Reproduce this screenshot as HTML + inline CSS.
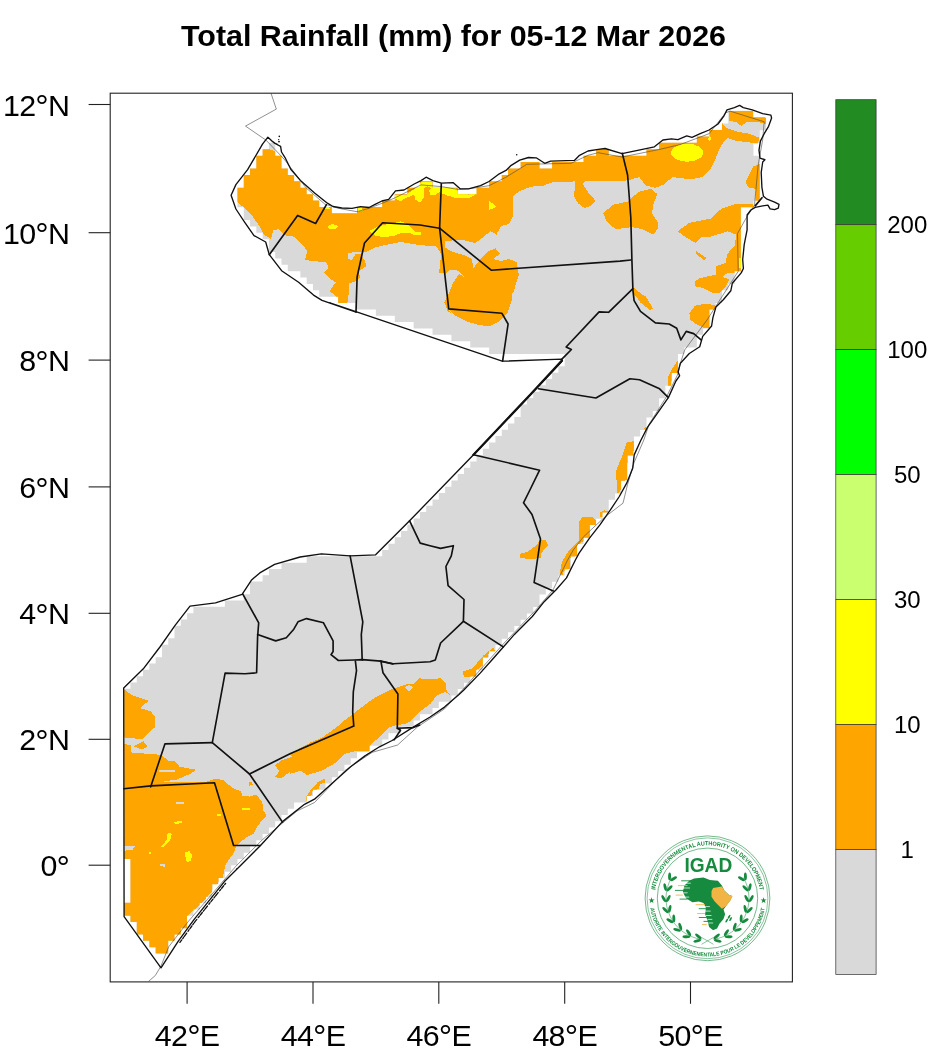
<!DOCTYPE html>
<html lang="en"><head><meta charset="utf-8"><title>Total Rainfall (mm) for 05-12 Mar 2026</title>
<style>html,body{margin:0;padding:0;background:#fff}body{width:941px;height:1056px;overflow:hidden}svg{display:block}text{font-family:"Liberation Sans",sans-serif;fill:#000}</style></head><body>
<svg width="941" height="1056" viewBox="0 0 941 1056">
<rect width="941" height="1056" fill="#fff"/>
<defs><clipPath id="mask"><path shape-rendering="crispEdges" d="M155.63 946.87H168.22V953.46H155.63ZM149.34 940.57H168.22V947.17H149.34ZM143.05 934.28H174.51V940.87H143.05ZM136.76 927.98H180.81V934.58H136.76ZM136.76 921.69H187.10V928.28H136.76ZM130.46 915.40H187.10V921.99H130.46ZM124.17 909.10H193.39V915.70H124.17ZM124.17 902.81H199.69V909.40H124.17ZM130.46 896.52H205.98V903.11H130.46ZM130.46 890.22H212.27V896.82H130.46ZM130.46 883.93H212.27V890.52H130.46ZM130.46 877.64H218.56V884.23H130.46ZM130.46 871.34H224.86V877.94H130.46ZM130.46 865.05H231.15V871.64H130.46ZM130.46 858.76H237.44V865.35H130.46ZM124.17 852.46H243.74V859.06H124.17ZM124.17 846.17H250.03V852.76H124.17ZM124.17 839.88H256.32V846.47H124.17ZM124.17 833.58H262.62V840.18H124.17ZM124.17 827.29H268.91V833.88H124.17ZM124.17 821.00H275.20V827.59H124.17ZM124.17 814.70H281.50V821.30H124.17ZM124.17 808.41H287.79V815.00H124.17ZM124.17 802.12H294.08V808.71H124.17ZM124.17 795.82H306.67V802.42H124.17ZM124.17 789.53H312.96V796.12H124.17ZM124.17 783.23H325.55V789.83H124.17ZM124.17 776.94H331.84V783.53H124.17ZM124.17 770.64H338.13V777.24H124.17ZM124.17 764.35H344.42V770.94H124.17ZM124.17 758.05H350.72V764.65H124.17ZM124.17 751.76H357.01V758.35H124.17ZM124.17 745.46H369.60V752.06H124.17ZM124.17 739.16H382.18V745.76H124.17ZM124.17 732.87H388.48V739.46H124.17ZM124.17 726.57H401.06V733.17H124.17ZM124.17 720.27H413.65V726.87H124.17ZM124.17 713.97H419.94V720.57H124.17ZM124.17 707.68H432.53V714.27H124.17ZM124.17 701.38H438.82V707.98H124.17ZM124.17 695.08H451.41V701.68H124.17ZM124.17 688.78H457.70V695.38H124.17ZM130.46 682.48H463.99V689.08H130.46ZM136.76 676.17H470.28V682.78H136.76ZM143.05 669.87H476.58V676.47H143.05ZM149.34 663.57H482.87V670.17H149.34ZM155.63 657.27H482.87V663.87H155.63ZM161.93 650.96H489.16V657.57H161.93ZM161.93 644.66H495.46V651.26H161.93ZM168.22 638.35H501.75V644.96H168.22ZM174.51 632.05H508.04V638.65H174.51ZM174.51 625.74H514.34V632.35H174.51ZM180.81 619.43H520.63V626.04H180.81ZM187.10 613.13H526.92V619.73H187.10ZM193.39 606.82H533.22V613.43H193.39ZM224.86 600.51H539.51V607.12H224.86ZM243.74 594.20H539.51V600.81H243.74ZM250.03 587.89H545.80V594.50H250.03ZM250.03 581.57H552.09V588.19H250.03ZM262.62 575.26H558.39V581.87H262.62ZM268.91 568.95H564.68V575.56H268.91ZM281.50 562.63H570.97V569.25H281.50ZM306.67 556.32H570.97V562.93H306.67ZM382.18 550.00H577.27V556.62H382.18ZM388.48 543.68H577.27V550.30H388.48ZM394.77 537.36H583.56V543.98H394.77ZM401.06 531.04H589.85V537.66H401.06ZM407.36 524.72H589.85V531.34H407.36ZM413.65 518.40H596.14V525.02H413.65ZM419.94 512.08H602.44V518.70H419.94ZM426.23 505.76H608.73V512.38H426.23ZM432.53 499.43H608.73V506.06H432.53ZM438.82 493.11H615.02V499.73H438.82ZM445.11 486.78H621.32V493.41H445.11ZM451.41 480.45H621.32V487.08H451.41ZM457.70 474.12H627.61V480.75H457.70ZM463.99 467.79H627.61V474.42H463.99ZM470.28 461.46H627.61V468.09H470.28ZM476.58 455.12H627.61V461.76H476.58ZM482.87 448.79H633.90V455.42H482.87ZM489.16 442.45H633.90V449.09H489.16ZM495.46 436.12H633.90V442.75H495.46ZM501.75 429.78H640.20V436.42H501.75ZM508.04 423.44H646.49V430.08H508.04ZM514.34 417.10H646.49V423.74H514.34ZM520.63 410.76H652.78V417.40H520.63ZM520.63 404.41H659.08V411.06H520.63ZM526.92 398.07H659.08V404.71H526.92ZM533.22 391.72H665.37V398.37H533.22ZM539.51 385.37H665.37V392.02H539.51ZM545.80 379.02H671.66V385.67H545.80ZM552.09 372.67H671.66V379.32H552.09ZM558.39 366.32H677.95V372.97H558.39ZM564.68 359.97H677.95V366.62H564.68ZM564.68 353.61H677.95V360.27H564.68ZM489.16 347.25H684.25V353.91H489.16ZM470.28 340.89H696.83V347.55H470.28ZM451.41 334.53H696.83V341.19H451.41ZM432.53 328.17H703.13V334.83H432.53ZM413.65 321.81H709.42V328.47H413.65ZM394.77 315.44H709.42V322.11H394.77ZM375.89 309.08H709.42V315.74H375.89ZM357.01 302.71H715.71V309.38H357.01ZM338.13 296.34H722.00V303.01H338.13ZM319.25 289.96H722.00V296.64H319.25ZM312.96 283.59H728.30V290.26H312.96ZM306.67 277.21H734.59V283.89H306.67ZM300.37 270.84H734.59V277.51H300.37ZM287.79 264.46H740.88V271.14H287.79ZM281.50 258.08H740.88V264.76H281.50ZM275.20 251.69H740.88V258.38H275.20ZM268.91 245.31H740.88V251.99H268.91ZM268.91 238.92H740.88V245.61H268.91ZM262.62 232.53H740.88V239.22H262.62ZM256.32 226.14H740.88V232.83H256.32ZM250.03 219.75H740.88V226.44H250.03ZM243.74 213.35H740.88V220.05H243.74ZM243.74 206.95H331.84V213.65H243.74ZM357.01 206.95H740.88V213.65H357.01ZM237.44 200.56H319.25V207.25H237.44ZM382.18 200.56H753.47V207.25H382.18ZM237.44 194.15H312.96V200.86H237.44ZM394.77 194.15H759.76V200.86H394.77ZM237.44 187.75H306.67V194.45H237.44ZM407.36 187.75H457.70V194.45H407.36ZM476.58 187.75H759.76V194.45H476.58ZM243.74 181.35H300.37V188.05H243.74ZM419.94 181.35H432.53V188.05H419.94ZM489.16 181.35H759.76V188.05H489.16ZM243.74 174.94H294.08V181.65H243.74ZM501.75 174.94H759.76V181.65H501.75ZM250.03 168.53H287.79V175.24H250.03ZM508.04 168.53H759.76V175.24H508.04ZM256.32 162.12H281.50V168.83H256.32ZM520.63 162.12H539.51V168.83H520.63ZM552.09 162.12H759.76V168.83H552.09ZM256.32 155.70H281.50V162.42H256.32ZM583.56 155.70H759.76V162.42H583.56ZM262.62 149.29H275.20V156.00H262.62ZM596.14 149.29H608.73V156.00H596.14ZM646.49 149.29H753.47V156.00H646.49ZM268.91 142.87H275.20V149.59H268.91ZM659.08 142.87H753.47V149.59H659.08ZM696.83 136.45H759.76V143.17H696.83ZM709.42 130.02H759.76V136.75H709.42ZM722.00 123.60H766.06V130.32H722.00ZM728.30 117.17H766.06V123.90H728.30ZM728.30 110.74H753.47V117.47H728.30Z"/></clipPath><clipPath id="frame"><rect x="110.2" y="93.2" width="682.2" height="888.7"/></clipPath></defs>
<text x="453.5" y="46.2" text-anchor="middle" font-size="30.4" font-weight="bold">Total Rainfall (mm) for 05-12 Mar 2026</text>
<g clip-path="url(#frame)">
<g clip-path="url(#mask)" shape-rendering="crispEdges">
<rect x="100" y="90" width="700" height="900" fill="#d9d9d9"/>
<polygon fill="#ffa500" points="262.5,147.4 230.6,189.9 238.1,202.6 244.4,208.0 251.9,215.4 259.3,226.0 263.6,234.5 271.0,238.8 273.1,230.3 278.4,229.2 285.9,235.6 294.4,236.7 304.0,246.2 307.1,251.5 305.0,260.0 313.5,261.1 326.3,262.2 328.4,267.5 324.1,272.8 330.5,279.2 335.8,282.3 329.5,290.9 335.8,296.2 338.0,302.5 347.5,302.5 348.6,294.0 348.6,283.4 356.0,281.3 360.3,277.0 358.2,270.7 366.7,266.4 364.5,260.0 360.3,253.7 356.0,253.7 351.8,260.0 347.5,259.0 347.5,253.7 356.0,251.5 366.7,251.5 375.2,247.3 390.0,244.1 400.7,242.0 420.0,245.2 435.9,246.2 441.3,253.7 439.1,272.8 445.5,273.8 449.8,269.6 458.3,270.7 465.7,278.1 459.3,273.8 452.9,283.4 448.7,294.0 444.4,302.5 447.6,311.0 451.9,314.0 448.0,309.1 455.4,315.5 468.2,321.9 478.8,325.1 489.4,326.1 500.0,320.8 507.5,313.4 511.7,300.6 512.8,290.0 513.5,291.9 518.8,274.9 516.7,262.2 509.3,259.0 500.8,261.1 493.3,259.0 499.7,253.7 495.5,248.3 488.0,251.5 481.6,257.9 473.1,268.5 472.1,259.0 465.7,255.8 451.9,251.5 444.4,247.3 445.5,240.9 462.5,239.8 475.3,243.0 483.8,236.7 490.1,231.3 496.5,234.5 500.8,226.0 509.3,223.9 513.5,215.4 512.5,196.3 519.9,191.0 530.5,186.7 543.3,185.6 551.8,182.5 575.2,181.4 574.1,196.3 578.3,203.7 584.7,208.0 591.1,205.8 595.3,200.5 587.9,192.0 582.6,183.5 584.7,181.4 620.0,181.4 627.6,180.3 639.3,177.1 645.7,185.6 655.3,187.8 663.8,184.6 672.3,177.1 691.4,179.3 702.0,177.1 710.5,168.6 715.8,158.0 721.1,145.3 727.5,137.8 736.0,141.0 748.8,142.1 757.3,144.2 759.4,137.8 748.8,133.6 736.0,131.4 727.5,128.3 723.3,125.1 722.2,119.8 706.3,121.9 663.8,132.5 621.3,147.4 600.0,143.1 607.0,143.1 568.8,153.8 535.8,151.6 511.4,160.1 483.8,179.3 460.4,183.5 441.3,179.3 420.0,175.0 400.7,183.5 381.5,196.3 360.3,200.5 334.8,202.6 326.3,196.3 305.0,179.3 283.8,153.8"/>
<polygon fill="#ffa500" points="728.6,111.3 753.0,111.3 753.0,116.6 765.8,117.6 765.8,124.0 757.3,121.9 746.7,121.9 741.3,126.1 736.0,121.9 728.6,120.8"/>
<polygon fill="#ffa500" points="603.2,213.3 612.8,204.8 627.6,201.6 638.3,192.0 651.0,188.8 657.4,194.1 653.1,204.8 652.1,213.3 657.4,221.8 658.4,228.2 653.1,234.5 642.5,229.2 631.9,227.1 615.9,229.2 606.4,220.7"/>
<polygon fill="#ffa500" points="620.0,204.8 612.3,205.8 603.8,214.3 607.0,221.8 615.5,229.2 620.0,229.2"/>
<polygon fill="#ffa500" points="761.5,163.3 753.0,166.5 748.8,175.0 745.6,182.5 748.8,187.8 756.2,188.8 756.2,200.5 761.5,200.5"/>
<polygon fill="#ffa500" points="677.6,231.3 689.3,222.8 710.5,218.6 721.1,209.0 736.0,203.7 753.0,203.7 753.0,208.0 741.3,209.0 741.3,272.8 727.5,272.8 722.2,277.0 715.8,276.0 715.8,266.4 725.4,263.2 727.5,253.7 735.0,245.2 736.0,234.5 727.5,231.3 710.5,236.7 702.0,236.7 695.6,243.0 685.0,236.7"/>
<polygon fill="#ffa500" points="695.6,250.5 706.3,257.9 704.1,260.0 696.7,254.7"/>
<polygon fill="#ffa500" points="694.6,281.3 699.9,278.1 714.8,274.9 729.6,279.2 725.4,287.7 719.0,293.0 712.6,293.0 702.0,287.7 695.6,286.6"/>
<polygon fill="#ffa500" points="634.0,287.7 642.5,295.1 653.1,308.9 649.9,310.0 640.4,302.5 635.1,295.1"/>
<polygon fill="#ffa500" points="634.1,290.0 645.8,296.4 653.3,309.1 649.0,308.1 640.5,300.6 634.1,294.3"/>
<polygon fill="#ffa500" points="689.4,313.4 694.7,305.9 704.3,303.8 714.9,304.9 716.0,310.2 710.7,317.6 709.6,328.3 704.3,328.3 695.8,324.0 690.5,319.8"/>
<polygon fill="#ffa500" points="678.8,359.1 672.4,368.6 668.2,377.1 667.1,392.0 671.3,389.9 671.3,381.4 676.7,379.3 678.8,370.8"/>
<polygon fill="#ffa500" points="626.7,442.0 639.5,440.9 639.5,443.0 634.1,444.1 633.1,455.8 627.8,456.8 626.7,480.2 621.4,481.3 620.3,491.9 617.1,493.0 616.1,470.7 621.4,457.9"/>
<polygon fill="#ffa500" points="643.7,428.2 645.8,427.1 645.8,430.3"/>
<polygon fill="#ffa500" points="520.3,553.8 527.8,551.6 536.3,545.3 540.5,539.9 545.8,539.9 548.0,545.3 540.5,553.8 540.5,558.0 529.9,559.1 520.3,558.0"/>
<polygon fill="#ffa500" points="578.8,521.9 583.0,516.6 591.5,516.6 595.8,519.8 595.8,530.4 587.3,538.9 576.7,545.3 576.7,555.9 570.3,558.0 570.3,568.6 563.9,570.8 562.8,575.0 559.6,574.0 561.8,562.3 568.2,551.6 578.8,541.0"/>
<polygon fill="#ffa500" points="600.0,512.3 604.3,510.2 608.5,511.3 605.3,516.6 600.0,517.6"/>
<polygon fill="#ffa500" points="553.3,583.5 558.6,582.5 557.5,587.8 553.3,589.9"/>
<polygon fill="#ffa500" points="545.8,594.1 552.2,591.6 549.0,596.3 544.8,600.5"/>
<polygon fill="#ffa500" points="462.9,671.7 472.5,668.5 483.1,655.8 493.8,647.3 494.8,651.5 488.4,653.7 488.4,662.2 483.1,665.3 475.7,670.7 475.7,677.0 464.0,677.0"/>
<polygon fill="#ffa500" points="290.0,753.7 311.3,742.0 321.9,737.8 336.8,727.1 345.3,719.7 358.0,710.1 375.0,697.4 389.9,689.9 402.6,685.7 409.0,683.6 413.3,684.6 419.6,678.3 428.2,679.3 440.9,678.3 446.2,683.6 446.2,689.9 450.5,695.3 445.2,692.1 436.7,695.3 430.3,703.8 421.8,710.1 411.1,720.8 404.8,724.0 396.3,725.0 389.9,727.1 381.4,735.6 376.1,739.9 369.7,745.2 369.7,750.5 358.0,750.5 345.3,753.7 336.8,762.2 321.9,770.7 307.0,775.0 300.6,770.7 290.0,773.9 289.9,771.9 281.4,778.3 275.0,777.2 279.3,770.9 275.0,765.5 281.4,760.2 292.0,757.0"/>
<polygon fill="#ffa500" points="305.9,797.3 311.3,788.8 317.6,782.4 325.1,778.2 325.1,782.4 319.8,784.5 318.7,788.8 312.3,790.9 311.3,796.2 305.9,801.5"/>
<polygon fill="#ffa500" points="122.0,688.0 132.6,695.4 148.6,700.7 140.1,708.2 150.7,711.3 154.9,716.7 154.9,727.3 147.5,733.7 142.2,739.0 125.2,737.9 122.0,735.8"/>
<polygon fill="#ffa500" points="133.7,746.4 143.3,741.1 147.5,746.4 142.2,749.6"/>
<polygon fill="#ffa500" points="248.5,782.5 251.7,781.5 252.7,784.7 249.5,785.7"/>
<polygon fill="#ffa500" points="122.0,743.2 130.5,745.3 131.6,752.8 149.6,753.8 161.3,754.9 168.8,761.3 175.1,761.3 179.4,766.6 196.4,769.8 190.0,774.0 177.3,779.4 158.1,782.5 207.0,781.7 215.5,778.5 224.0,780.6 232.5,788.1 241.0,791.3 242.1,795.5 249.5,796.6 255.9,794.4 262.3,801.9 263.3,810.4 266.5,815.7 258.0,825.3 253.8,833.8 245.3,838.0 236.8,845.5 233.6,852.9 225.1,865.6 223.0,877.3 219.8,880.5 207.0,897.5 198.5,906.0 186.8,916.7 186.8,922.0 198.5,922.0 168.8,974.0 122.0,916.7 122.0,850.8 132.6,849.7 134.8,846.5 122.0,845.5"/>
<polygon fill="#d9d9d9" points="404.8,687.8 409.0,684.6 413.3,687.8 409.0,691.4"/>
<polygon fill="#d9d9d9" points="160.3,863.5 165.6,864.6 164.5,866.7 159.8,866.1"/>
<polygon fill="#d9d9d9" points="176.2,801.9 183.6,801.9 183.6,803.6 176.2,803.6"/>
<polygon fill="#d9d9d9" points="124.1,845.5 134.8,846.5 132.6,849.7 124.1,850.8"/>
<polygon fill="#d9d9d9" points="159.2,770.2 175.1,770.2 175.1,771.5 159.2,771.5"/>
<polygon fill="#ffff00" points="395.4,194.6 406.5,194.6 414.0,189.3 419.9,184.9 420.7,181.9 431.8,181.9 432.6,186.4 440.8,187.1 457.1,188.6 457.9,193.8 469.0,194.6 473.5,192.3 475.0,194.6 470.5,197.5 457.1,198.3 446.7,195.3 439.3,192.3 434.8,195.3 430.4,194.6 428.9,190.8 431.1,187.9 427.4,186.4 424.4,187.9 424.4,196.8 419.9,202.7 415.5,199.8 414.0,194.6 409.5,196.8 405.1,198.3 400.6,201.2 395.4,199.0"/>
<polygon fill="#ffff00" points="357.4,207.9 361.9,207.2 362.6,210.9 358.2,211.7"/>
<polygon fill="#ffff00" points="369.3,231.0 376.8,227.3 382.7,225.1 394.6,222.8 400.6,221.3 406.5,223.6 412.5,228.8 415.5,231.8 421.4,232.5 420.7,234.7 414.0,234.7 408.0,232.5 400.6,233.2 393.2,236.2 382.7,237.0 375.3,235.5"/>
<polygon fill="#ffff00" points="489.1,200.5 496.5,206.9 489.1,210.1"/>
<polygon fill="#ffff00" points="327.3,226.0 332.6,223.9 339.0,226.0 335.8,229.2 329.5,229.2"/>
<polygon fill="#ffff00" points="319.9,200.5 326.3,203.7 330.5,209.0 325.2,209.0"/>
<polygon fill="#ffff00" points="709.5,135.7 711.6,137.8 710.1,141.0 708.0,139.3"/>
<polygon fill="#ffff00" points="739.2,257.9 741.3,257.9 741.3,268.5 739.2,267.5"/>
<polygon fill="#ffff00" points="676.7,375.0 678.8,374.0 679.4,377.1 677.1,379.3"/>
<polygon fill="#ffff00" points="161.3,846.5 166.6,840.1 167.7,832.7 172.0,833.8 169.8,841.2 163.4,847.6"/>
<polygon fill="#ffff00" points="184.7,852.9 189.0,850.8 192.1,855.0 191.1,860.3 186.8,862.5"/>
<polygon fill="#ffff00" points="174.1,822.1 181.5,820.6 181.5,823.1 175.1,824.2"/>
<polygon fill="#ffff00" points="217.0,814.2 220.8,814.2 220.8,816.3 217.0,816.3"/>
<polygon fill="#ffff00" points="242.1,807.8 249.5,807.8 249.5,810.4 242.1,810.4"/>
<polygon fill="#ffff00" points="149.0,851.8 151.3,851.8 151.3,854.4 149.0,854.4"/>
<ellipse fill="#ffff00" cx="687.1" cy="152.7" rx="16.0" ry="9.0"/>
</g>
<polyline fill="none" stroke="#444" stroke-width="0.6" points="271.0,93.2 276.3,109.1 245.5,126.1 266.2,140.3 284.0,159.0 306.1,187.9 324.8,204.1 338.4,208.3 357.1,211.7 369.0,208.3 384.4,202.4 395.5,197.6 421.0,184.9 441.4,186.6 458.4,189.5 472.0,188.3 489.0,185.7 506.0,177.2 526.8,164.3 571.0,163.3 588.0,155.3 598.2,152.7 622.0,157.0 660.0,149.3 680.0,144.6 709.1,133.7 725.5,112.9 730.0,111.1 764.2,121.8 762.7,139.6 758.2,164.9 754.5,205.1 747.1,216.4 737.5,233.5 738.2,271.4 707.0,320.0 684.8,349.8 680.4,363.2 677.4,375.1 667.0,395.9 649.1,424.2 643.8,440.0 634.2,462.3 627.5,484.6 623.0,503.2 604.4,517.4 583.6,536.7 573.2,550.1 567.6,560.0 553.1,589.8 535.2,610.6 502.5,644.8 462.3,690.0 444.5,708.9 417.4,727.0 397.6,745.0 372.3,752.3 345.2,770.3 314.5,802.5 297.0,811.0 262.4,839.7 235.6,866.5 212.7,893.3 187.8,922.0 168.7,946.8 161.0,966.0 155.3,975.5 148.6,981.3"/>
<g fill="none" stroke="#111" stroke-width="1.65" stroke-linejoin="round" stroke-linecap="round">
<polygon stroke-width="1.35" points="267.9,137.2 272.0,141.0 276.0,144.0 280.6,146.3 281.5,152.0 284.9,157.3 290.8,169.2 301.0,181.1 314.6,193.0 327.4,203.2 333.0,206.5 341.8,208.0 352.0,208.3 360.5,206.6 369.0,207.5 375.1,204.4 381.9,201.0 388.7,199.3 395.5,190.8 404.0,190.0 414.2,184.0 421.0,180.6 426.1,177.2 432.9,180.6 441.4,183.2 453.3,182.7 460.1,188.8 468.6,188.8 480.5,185.7 489.0,181.5 499.3,173.8 506.0,170.4 511.2,165.3 519.7,160.2 528.5,157.5 536.2,157.8 544.7,163.3 550.6,161.2 574.4,160.4 579.5,155.3 588.0,151.0 598.2,149.3 605.0,148.5 622.0,153.6 642.4,149.3 654.4,146.8 662.9,140.0 671.4,138.8 677.9,139.6 686.8,135.9 692.0,137.4 700.2,133.7 709.1,130.0 718.0,124.0 724.0,115.8 727.0,109.9 734.4,107.6 739.6,105.4 743.3,107.6 752.3,109.9 762.7,113.6 770.9,115.1 771.6,118.1 768.6,126.3 764.2,133.7 760.4,141.1 759.0,150.1 760.0,158.2 764.9,159.7 762.7,162.0 761.2,172.4 761.9,187.3 763.4,196.2 767.1,199.2 774.6,202.1 779.0,204.4 778.3,208.1 774.6,209.6 770.1,208.8 767.9,205.1 762.7,205.9 755.2,207.4 750.9,210.0 747.1,215.0 747.1,229.8 744.2,244.6 742.7,259.5 743.4,268.5 741.2,272.9 732.3,283.3 730.8,290.8 723.3,299.7 715.9,307.1 712.9,317.6 711.6,326.0 702.7,336.4 699.7,346.8 689.3,353.5 680.4,363.2 678.1,372.0 679.6,375.8 675.9,381.0 668.5,397.4 658.0,412.3 647.6,427.1 640.5,441.0 634.2,454.9 632.7,468.3 626.7,483.2 619.3,496.5 610.4,509.9 599.9,524.8 589.5,538.2 579.1,553.1 575.4,560.0 566.5,577.9 556.1,589.8 544.2,601.7 532.3,616.5 514.4,634.4 504.0,646.3 492.1,659.7 480.2,673.1 463.8,690.0 459.0,694.5 444.5,707.1 430.1,717.0 412.0,727.9 392.1,740.5 379.5,746.8 365.0,755.9 350.6,766.7 332.5,783.0 314.5,799.2 304.5,804.3 282.5,821.6 260.5,845.5 243.3,862.7 224.2,881.8 208.9,900.9 193.6,920.1 178.3,941.1 161.0,967.9 124.1,916.7 123.7,688.0 143.3,668.8 160.3,646.5 175.1,625.3 190.0,606.1 215.5,602.9 242.1,594.4 251.3,580.3 259.8,572.9 274.6,564.4 300.1,557.0 321.4,553.8 350.1,555.9 375.6,554.8 409.6,520.8 473.5,454.7 561.9,361.2 561.9,359.1 502.2,361.2 330.0,302.8 356.0,312.1 322.0,300.4 313.5,295.1 298.6,282.3 281.6,270.7 269.3,254.7 265.7,242.0 254.0,235.6 244.4,221.8 235.9,209.0 231.1,195.2 235.9,184.6 247.6,169.7 262.5,144.2"/>
<polyline points="441.3,183.9 439.6,228.2"/>
<polyline points="356.0,312.1 357.1,277.0 364.5,243.0 382.6,222.8 420.0,225.0 439.6,228.2"/>
<polyline points="439.6,228.2 491.2,270.2 620.0,261.1 630.8,260.0"/>
<polyline points="439.6,228.2 448.7,308.9 501.8,313.2 508.1,324.0 502.6,361.2"/>
<polyline points="269.3,254.7 297.6,215.4 315.6,223.5 326.3,204.8"/>
<polyline points="622.3,153.3 627.6,175.0 630.8,217.5 631.9,260.0 632.9,289.8 634.1,300.6 640.5,311.3 655.4,322.9 669.2,324.0 676.7,328.3 680.9,339.9 686.2,331.4 693.7,333.6 701.1,339.9"/>
<polyline points="632.9,288.7 608.6,312.3 599.1,311.9 566.1,347.0 571.4,349.5 561.9,359.1"/>
<polyline points="538.5,388.8 595.9,398.0 629.9,378.8 639.5,379.7 659.6,388.8 668.2,397.3"/>
<polyline points="473.5,454.7 539.6,470.2 529.9,490.0 523.5,502.8 532.0,514.4 540.5,538.9 534.1,582.5 553.3,591.0"/>
<polyline points="409.6,520.8 420.2,543.1 430.0,545.7 440.6,548.4 453.4,545.7 451.3,555.9 445.9,566.5 448.1,585.6 464.0,599.5 463.4,621.3 503.3,646.9"/>
<polyline points="463.4,621.3 440.6,643.0 435.3,660.0 430.0,661.7 393.1,663.8 380.3,661.3"/>
<polyline points="350.1,555.9 362.8,621.8 361.3,634.5 362.2,660.0"/>
<polyline points="242.8,594.1 258.7,622.8 257.6,636.7 256.6,672.8 244.9,673.8 225.1,673.1 212.3,742.6"/>
<polyline points="257.6,634.5 275.7,640.9 286.3,637.7 293.8,629.2 298.0,621.8 306.5,618.6 323.5,622.8 333.1,640.9 333.1,651.5 331.0,654.7 338.4,660.5 354.3,660.0 362.2,659.6 380.9,661.1 392.6,663.9 393.1,663.8"/>
<polyline points="355.4,661.1 356.5,670.7 353.3,691.9 352.7,712.3 353.8,726.1 290.0,753.7 249.5,774.0"/>
<polyline points="380.9,661.1 383.0,672.8 397.9,694.0 397.3,728.2 400.5,730.3 394.1,739.9"/>
<polyline points="397.3,728.2 413.3,727.6 419.6,725.0"/>
<polyline points="212.3,742.6 164.9,743.9 150.7,786.8"/>
<polyline points="212.3,742.6 249.5,774.0 282.5,822.1"/>
<polyline points="123.7,788.7 150.7,785.9 214.5,782.8 233.6,845.5 260.2,845.5"/>
<polyline points="762,197.7 755.2,205.9"/>
<polyline stroke-width="2.3" points="561.9,360.6 530,395 473.5,454.7"/>
<polyline stroke-width="1.3" stroke-dasharray="3.2 1.6 1.5 1.2 4 2.2 2 1.4" points="179.9,942.4 195.2,921.4 210.5,902.2 225.8,883.1"/>
<polyline stroke-width="1" points="270.5,139.5 273.5,142.8 277.5,144.2"/>
</g>
<circle cx="279.3" cy="136.4" r="0.8" fill="#111"/>
<circle cx="278.7" cy="139.6" r="0.7" fill="#111"/>
<circle cx="279.0" cy="141.6" r="0.9" fill="#111"/>
<circle cx="516.7" cy="154.8" r="0.8" fill="#111"/>
<circle cx="233.5" cy="872.5" r="0.6" fill="#111"/>
<circle cx="236.5" cy="868.8" r="0.6" fill="#111"/>
</g>
<rect x="110.2" y="93.2" width="682.2" height="888.7" fill="none" stroke="#222" stroke-width="1.1"/>
<g stroke="#222" stroke-width="1.1">
<line x1="88.6" y1="865.2" x2="110.2" y2="865.2"/>
<line x1="88.6" y1="739.3" x2="110.2" y2="739.3"/>
<line x1="88.6" y1="613.3" x2="110.2" y2="613.3"/>
<line x1="88.6" y1="486.9" x2="110.2" y2="486.9"/>
<line x1="88.6" y1="360.1" x2="110.2" y2="360.1"/>
<line x1="88.6" y1="232.7" x2="110.2" y2="232.7"/>
<line x1="88.6" y1="104.5" x2="110.2" y2="104.5"/>
<line x1="187.1" y1="981.9" x2="187.1" y2="1003.8"/>
<line x1="313.0" y1="981.9" x2="313.0" y2="1003.8"/>
<line x1="438.8" y1="981.9" x2="438.8" y2="1003.8"/>
<line x1="564.7" y1="981.9" x2="564.7" y2="1003.8"/>
<line x1="690.5" y1="981.9" x2="690.5" y2="1003.8"/>
</g>
<text x="69.2" y="876.2" text-anchor="end" font-size="30.4" letter-spacing="-0.75">0<tspan font-size="33.5" dy="2.6">°</tspan></text>
<text x="69.2" y="750.3" text-anchor="end" font-size="30.4" letter-spacing="-0.75">2<tspan font-size="33.5" dy="2.6">°</tspan><tspan dy="-2.6">N</tspan></text>
<text x="69.2" y="624.3" text-anchor="end" font-size="30.4" letter-spacing="-0.75">4<tspan font-size="33.5" dy="2.6">°</tspan><tspan dy="-2.6">N</tspan></text>
<text x="69.2" y="497.9" text-anchor="end" font-size="30.4" letter-spacing="-0.75">6<tspan font-size="33.5" dy="2.6">°</tspan><tspan dy="-2.6">N</tspan></text>
<text x="69.2" y="371.1" text-anchor="end" font-size="30.4" letter-spacing="-0.75">8<tspan font-size="33.5" dy="2.6">°</tspan><tspan dy="-2.6">N</tspan></text>
<text x="69.2" y="243.7" text-anchor="end" font-size="30.4" letter-spacing="-0.75">10<tspan font-size="33.5" dy="2.6">°</tspan><tspan dy="-2.6">N</tspan></text>
<text x="69.2" y="115.5" text-anchor="end" font-size="30.4" letter-spacing="-0.75">12<tspan font-size="33.5" dy="2.6">°</tspan><tspan dy="-2.6">N</tspan></text>
<text x="187.1" y="1045.8" text-anchor="middle" font-size="30.4" letter-spacing="-0.75">42<tspan font-size="33.5" dy="2.6">°</tspan><tspan dy="-2.6">E</tspan></text>
<text x="313.0" y="1045.8" text-anchor="middle" font-size="30.4" letter-spacing="-0.75">44<tspan font-size="33.5" dy="2.6">°</tspan><tspan dy="-2.6">E</tspan></text>
<text x="438.8" y="1045.8" text-anchor="middle" font-size="30.4" letter-spacing="-0.75">46<tspan font-size="33.5" dy="2.6">°</tspan><tspan dy="-2.6">E</tspan></text>
<text x="564.7" y="1045.8" text-anchor="middle" font-size="30.4" letter-spacing="-0.75">48<tspan font-size="33.5" dy="2.6">°</tspan><tspan dy="-2.6">E</tspan></text>
<text x="690.5" y="1045.8" text-anchor="middle" font-size="30.4" letter-spacing="-0.75">50<tspan font-size="33.5" dy="2.6">°</tspan><tspan dy="-2.6">E</tspan></text>
<rect x="835.8" y="99.70" width="40.3" height="124.97" fill="#228b22" stroke="#333" stroke-width="0.7"/>
<rect x="835.8" y="224.67" width="40.3" height="124.97" fill="#66cd00" stroke="#333" stroke-width="0.7"/>
<rect x="835.8" y="349.64" width="40.3" height="124.97" fill="#00ff00" stroke="#333" stroke-width="0.7"/>
<rect x="835.8" y="474.61" width="40.3" height="124.97" fill="#caff70" stroke="#333" stroke-width="0.7"/>
<rect x="835.8" y="599.58" width="40.3" height="124.97" fill="#ffff00" stroke="#333" stroke-width="0.7"/>
<rect x="835.8" y="724.55" width="40.3" height="124.97" fill="#ffa500" stroke="#333" stroke-width="0.7"/>
<rect x="835.8" y="849.52" width="40.3" height="124.97" fill="#d9d9d9" stroke="#333" stroke-width="0.7"/>
<text x="907.3" y="233.3" text-anchor="middle" font-size="24">200</text>
<text x="907.3" y="358.2" text-anchor="middle" font-size="24">100</text>
<text x="907.3" y="483.2" text-anchor="middle" font-size="24">50</text>
<text x="907.3" y="608.2" text-anchor="middle" font-size="24">30</text>
<text x="907.3" y="733.2" text-anchor="middle" font-size="24">10</text>
<text x="907.3" y="858.1" text-anchor="middle" font-size="24">1</text>
<g id="igad">
<circle cx="707.5" cy="898.3" r="63" fill="#fff"/>
<circle cx="707.5" cy="898.3" r="62.4" fill="none" stroke="#168a3e" stroke-width="0.6"/>
<circle cx="707.5" cy="898.3" r="60.4" fill="none" stroke="#168a3e" stroke-width="0.5"/>
<circle cx="707.5" cy="898.3" r="50.2" fill="none" stroke="#168a3e" stroke-width="0.6"/>
<path id="arcTop" d="M655.15 890.01A53.0 53.0 0 0 1 759.85 890.01" fill="none"/>
<path id="arcBot" d="M650.18 908.41A58.2 58.2 0 0 0 764.82 908.41" fill="none"/>
<text font-size="6" font-weight="bold" style="fill:#168a3e" textLength="149.9" lengthAdjust="spacingAndGlyphs"><textPath href="#arcTop" textLength="149.9" lengthAdjust="spacingAndGlyphs">INTERGOVERNMENTAL AUTHORITY ON DEVELOPMENT</textPath></text>
<text font-size="5.6" font-weight="bold" style="fill:#168a3e" textLength="162.5" lengthAdjust="spacingAndGlyphs"><textPath href="#arcBot" textLength="162.5" lengthAdjust="spacingAndGlyphs">AUTORITE INTERGOUVERNEMENTALE POUR LE DEVELOPPEMENT</textPath></text>
<text x="651.5" y="902.9" font-size="8" text-anchor="middle" style="fill:#168a3e">★</text>
<text x="763.5" y="902.9" font-size="8" text-anchor="middle" style="fill:#168a3e">★</text>
<text x="708.3" y="872" font-size="20" font-weight="bold" text-anchor="middle" style="fill:#168a3e" textLength="47.8" lengthAdjust="spacingAndGlyphs">IGAD</text>
<polygon fill="#168a3e" points="694.0,878.4 703.5,877.6 709.9,880.0 717.9,880.8 721.9,885.6 724.3,890.4 729.1,895.1 732.2,895.9 730.6,899.9 725.9,906.3 723.5,909.5 725.1,914.3 723.5,919.1 719.5,923.8 717.1,928.6 713.1,930.2 709.1,927.0 707.5,920.6 705.1,914.3 705.9,907.9 703.5,903.1 698.8,901.5 692.4,902.3 686.0,898.3 682.8,892.0 684.4,885.6 689.2,880.8"/>
<polygon fill="#f2b544" points="713.1,888.0 721.9,886.4 724.3,890.4 729.1,895.1 732.6,895.9 730.6,899.9 725.9,906.3 721.9,908.7 717.9,904.7 714.7,901.5 711.5,896.7 711.5,891.2"/>
<line x1="681.2" y1="880.8" x2="695.6" y2="880.8" stroke="#168a3e" stroke-width="0.9"/>
<line x1="678.0" y1="885.6" x2="687.6" y2="885.6" stroke="#f2b544" stroke-width="0.9"/>
<line x1="674.9" y1="890.4" x2="690.8" y2="890.4" stroke="#168a3e" stroke-width="0.9"/>
<line x1="675.7" y1="895.1" x2="682.8" y2="895.1" stroke="#f2b544" stroke-width="0.9"/>
<line x1="679.6" y1="899.1" x2="687.6" y2="899.1" stroke="#168a3e" stroke-width="0.9"/>
<line x1="695.6" y1="904.7" x2="705.1" y2="904.7" stroke="#f2b544" stroke-width="0.9"/>
<line x1="698.8" y1="908.7" x2="706.7" y2="908.7" stroke="#168a3e" stroke-width="0.9"/>
<line x1="697.2" y1="913.5" x2="705.1" y2="913.5" stroke="#f2b544" stroke-width="0.9"/>
<line x1="698.8" y1="917.5" x2="706.7" y2="917.5" stroke="#168a3e" stroke-width="0.9"/>
<line x1="703.5" y1="921.4" x2="708.3" y2="921.4" stroke="#168a3e" stroke-width="0.9"/>
<line x1="702.0" y1="924.6" x2="706.7" y2="924.6" stroke="#f2b544" stroke-width="0.9"/>
<line x1="682.8" y1="883.2" x2="690.8" y2="883.2" stroke="#fff" stroke-width="0.7"/>
<line x1="682.8" y1="888.0" x2="690.0" y2="888.0" stroke="#fff" stroke-width="0.7"/>
<line x1="682.8" y1="892.8" x2="687.6" y2="892.8" stroke="#fff" stroke-width="0.7"/>
<line x1="684.4" y1="897.1" x2="689.2" y2="897.1" stroke="#fff" stroke-width="0.7"/>
<line x1="705.1" y1="906.6" x2="709.9" y2="906.6" stroke="#fff" stroke-width="0.7"/>
<line x1="705.1" y1="911.1" x2="710.7" y2="911.1" stroke="#fff" stroke-width="0.7"/>
<line x1="705.9" y1="915.5" x2="711.5" y2="915.5" stroke="#fff" stroke-width="0.7"/>
<line x1="707.5" y1="919.4" x2="712.3" y2="919.4" stroke="#fff" stroke-width="0.7"/>
<line x1="708.3" y1="923.0" x2="713.1" y2="923.0" stroke="#fff" stroke-width="0.7"/>
<ellipse cx="669.57" cy="876.40" rx="3.9" ry="1.45" fill="#168a3e" transform="rotate(-88.0 669.57 876.40)"/>
<ellipse cx="673.55" cy="878.70" rx="3.9" ry="1.45" fill="#168a3e" transform="rotate(-32.0 673.55 878.70)"/>
<ellipse cx="665.15" cy="887.11" rx="3.9" ry="1.45" fill="#168a3e" transform="rotate(-103.2 665.15 887.11)"/>
<ellipse cx="669.60" cy="888.29" rx="3.9" ry="1.45" fill="#168a3e" transform="rotate(-47.2 669.60 888.29)"/>
<ellipse cx="663.70" cy="898.61" rx="3.9" ry="1.45" fill="#168a3e" transform="rotate(-118.4 663.70 898.61)"/>
<ellipse cx="668.30" cy="898.57" rx="3.9" ry="1.45" fill="#168a3e" transform="rotate(-62.4 668.30 898.57)"/>
<ellipse cx="665.31" cy="910.08" rx="3.9" ry="1.45" fill="#168a3e" transform="rotate(-133.6 665.31 910.08)"/>
<ellipse cx="669.74" cy="908.84" rx="3.9" ry="1.45" fill="#168a3e" transform="rotate(-77.6 669.74 908.84)"/>
<ellipse cx="669.88" cy="920.73" rx="3.9" ry="1.45" fill="#168a3e" transform="rotate(-148.8 669.88 920.73)"/>
<ellipse cx="673.83" cy="918.37" rx="3.9" ry="1.45" fill="#168a3e" transform="rotate(-92.8 673.83 918.37)"/>
<ellipse cx="677.07" cy="929.81" rx="3.9" ry="1.45" fill="#168a3e" transform="rotate(-164.0 677.07 929.81)"/>
<ellipse cx="680.27" cy="926.50" rx="3.9" ry="1.45" fill="#168a3e" transform="rotate(-108.0 680.27 926.50)"/>
<ellipse cx="686.40" cy="936.68" rx="3.9" ry="1.45" fill="#168a3e" transform="rotate(-179.2 686.40 936.68)"/>
<ellipse cx="688.62" cy="932.65" rx="3.9" ry="1.45" fill="#168a3e" transform="rotate(-123.2 688.62 932.65)"/>
<ellipse cx="697.20" cy="940.87" rx="3.9" ry="1.45" fill="#168a3e" transform="rotate(-194.4 697.20 940.87)"/>
<ellipse cx="698.28" cy="936.40" rx="3.9" ry="1.45" fill="#168a3e" transform="rotate(-138.4 698.28 936.40)"/>
<path d="M671.56 877.55A41.5 41.5 0 0 0 701.72 939.40" fill="none" stroke="#168a3e" stroke-width="0.5"/>
<ellipse cx="745.43" cy="876.40" rx="3.9" ry="1.45" fill="#168a3e" transform="rotate(-92.0 745.43 876.40)"/>
<ellipse cx="741.45" cy="878.70" rx="3.9" ry="1.45" fill="#168a3e" transform="rotate(-148.0 741.45 878.70)"/>
<ellipse cx="749.85" cy="887.11" rx="3.9" ry="1.45" fill="#168a3e" transform="rotate(-76.8 749.85 887.11)"/>
<ellipse cx="745.40" cy="888.29" rx="3.9" ry="1.45" fill="#168a3e" transform="rotate(-132.8 745.40 888.29)"/>
<ellipse cx="751.30" cy="898.61" rx="3.9" ry="1.45" fill="#168a3e" transform="rotate(-61.6 751.30 898.61)"/>
<ellipse cx="746.70" cy="898.57" rx="3.9" ry="1.45" fill="#168a3e" transform="rotate(-117.6 746.70 898.57)"/>
<ellipse cx="749.69" cy="910.08" rx="3.9" ry="1.45" fill="#168a3e" transform="rotate(-46.4 749.69 910.08)"/>
<ellipse cx="745.26" cy="908.84" rx="3.9" ry="1.45" fill="#168a3e" transform="rotate(-102.4 745.26 908.84)"/>
<ellipse cx="745.12" cy="920.73" rx="3.9" ry="1.45" fill="#168a3e" transform="rotate(-31.2 745.12 920.73)"/>
<ellipse cx="741.17" cy="918.37" rx="3.9" ry="1.45" fill="#168a3e" transform="rotate(-87.2 741.17 918.37)"/>
<ellipse cx="737.93" cy="929.81" rx="3.9" ry="1.45" fill="#168a3e" transform="rotate(-16.0 737.93 929.81)"/>
<ellipse cx="734.73" cy="926.50" rx="3.9" ry="1.45" fill="#168a3e" transform="rotate(-72.0 734.73 926.50)"/>
<ellipse cx="728.60" cy="936.68" rx="3.9" ry="1.45" fill="#168a3e" transform="rotate(-0.8 728.60 936.68)"/>
<ellipse cx="726.38" cy="932.65" rx="3.9" ry="1.45" fill="#168a3e" transform="rotate(-56.8 726.38 932.65)"/>
<ellipse cx="717.80" cy="940.87" rx="3.9" ry="1.45" fill="#168a3e" transform="rotate(14.4 717.80 940.87)"/>
<ellipse cx="716.72" cy="936.40" rx="3.9" ry="1.45" fill="#168a3e" transform="rotate(-41.6 716.72 936.40)"/>
<path d="M743.44 877.55A41.5 41.5 0 0 1 713.28 939.40" fill="none" stroke="#168a3e" stroke-width="0.5"/>
<path d="M699.5 936.3L713.5 944.3M715.5 936.3L701.5 944.3" stroke="#168a3e" stroke-width="0.5" fill="none"/>
<ellipse cx="729.1" cy="916.7" rx="2.2" ry="0.9" fill="#168a3e" transform="rotate(-60 729.1 916.7)"/>
<ellipse cx="730.6" cy="919.1" rx="2.2" ry="0.9" fill="#168a3e" transform="rotate(-60 730.6 919.1)"/>
<ellipse cx="726.7" cy="920.6" rx="2.2" ry="0.9" fill="#168a3e" transform="rotate(-60 726.7 920.6)"/>
</g>
</svg></body></html>
